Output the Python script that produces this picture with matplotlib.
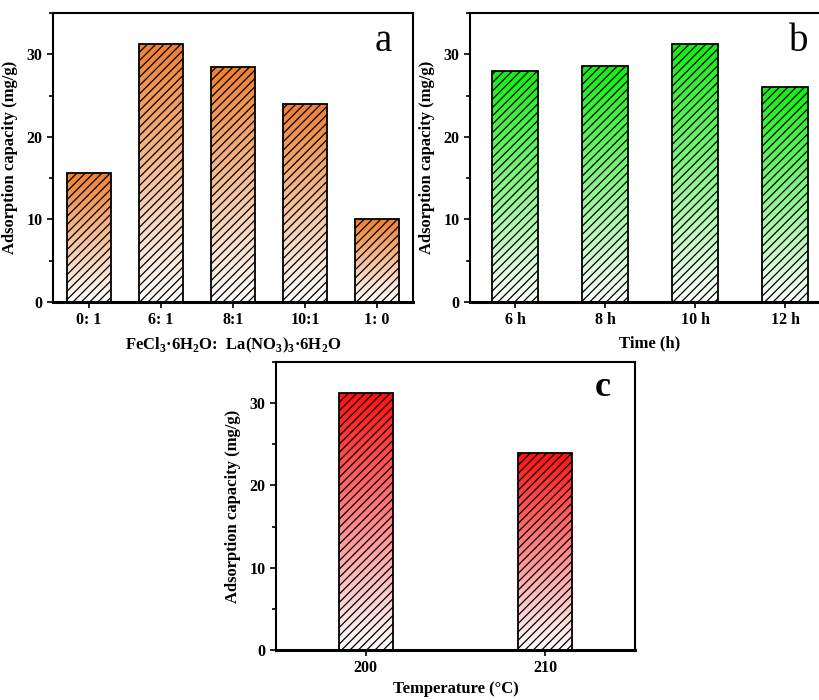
import numpy as np
import matplotlib; matplotlib.use("Agg")
import matplotlib.pyplot as plt
from matplotlib.colors import LinearSegmentedColormap
from matplotlib.ticker import MultipleLocator

plt.rcParams["font.family"] = "Liberation Serif"
plt.rcParams["font.weight"] = "bold"
plt.rcParams["mathtext.fontset"] = "custom"
plt.rcParams["mathtext.rm"] = "Liberation Serif:bold"
plt.rcParams["mathtext.bf"] = "Liberation Serif:bold"
plt.rcParams["hatch.linewidth"] = 0.9

# data
ratio_labels = ["0: 1", "6: 1", "8:1", "10:1", "1: 0"]
ratio_values = [15.6, 31.3, 28.4, 24.0, 10.0]
time_labels = ["6 h", "8 h", "10 h", "12 h"]
time_values = [28.0, 28.6, 31.3, 26.0]
temp_labels = ["200", "210"]
temp_values = [31.2, 24.0]

YLAB = "Adsorption capacity (mg/g)"

def grad_bars(ax, labels, values, width, top_color):
    x = np.arange(1, len(values) + 1)
    cmap = LinearSegmentedColormap.from_list("g", ["white", top_color])
    grad = np.linspace(0, 1, 256).reshape(-1, 1)
    bars = ax.bar(x, values, width=width, facecolor="none", edgecolor="black",
                  linewidth=1.3, hatch="////", zorder=3)
    for b in bars:
        x0, y0 = b.get_x(), b.get_y()
        im = ax.imshow(grad, cmap=cmap, origin="lower", aspect="auto",
                       extent=(x0, x0 + b.get_width(), y0, y0 + b.get_height()), zorder=2)
        im.set_clip_path(b)
    ax.set_xticks(x)
    ax.set_xticklabels(labels)
    ax.set_xlim(0.5, len(values) + 0.5)
    ax.set_ylim(0, 35)
    ax.yaxis.set_major_locator(MultipleLocator(10))
    ax.yaxis.set_minor_locator(MultipleLocator(5))
    ax.tick_params(axis="both", direction="out", labelsize=11.5, width=1.2, length=4)
    ax.tick_params(axis="y", which="minor", direction="out", width=1.2, length=3)
    ax.tick_params(axis="x", which="minor", bottom=False)
    for s in ["left", "right", "top"]:
        ax.spines[s].set_linewidth(1.5)
    ax.spines["bottom"].set_linewidth(2.2)
    ax.set_ylabel(YLAB, fontsize=12, fontweight="bold", labelpad=6)
    return ax

fig = plt.figure(figsize=(8.2, 7), dpi=100)
ax_a = fig.add_axes([0.0646, 0.5686, 0.439, 0.4129])
ax_b = fig.add_axes([0.5732, 0.5686, 0.439, 0.4129])
ax_c = fig.add_axes([0.3366, 0.0714, 0.4378, 0.4114])

grad_bars(ax_a, ratio_labels, ratio_values, 0.6, "#EE8030")
ax_a.set_xlabel("FeCl$_3$·6H$_2$O:  La(NO$_3$)$_3$·6H$_2$O", fontsize=12, fontweight="bold", labelpad=5)
ax_a.text(0.917, 0.9, "a", transform=ax_a.transAxes, fontsize=28, fontweight="normal",
          ha="center", va="center")

grad_bars(ax_b, time_labels, time_values, 0.51, "#10EE10")
ax_b.set_xlabel("Time (h)", fontsize=12, fontweight="bold", labelpad=5)
ax_b.text(0.914, 0.9, "b", transform=ax_b.transAxes, fontsize=28, fontweight="normal",
          ha="center", va="center")

grad_bars(ax_c, temp_labels, temp_values, 0.3, "#FF1010")
ax_c.set_xlabel("Temperature (°C)", fontsize=12, fontweight="bold", labelpad=3)
ax_c.text(0.91, 0.91, "c", transform=ax_c.transAxes, fontsize=26, fontweight="bold",
          ha="center", va="center")

plt.savefig("out.png", dpi=100)
plt.close()
